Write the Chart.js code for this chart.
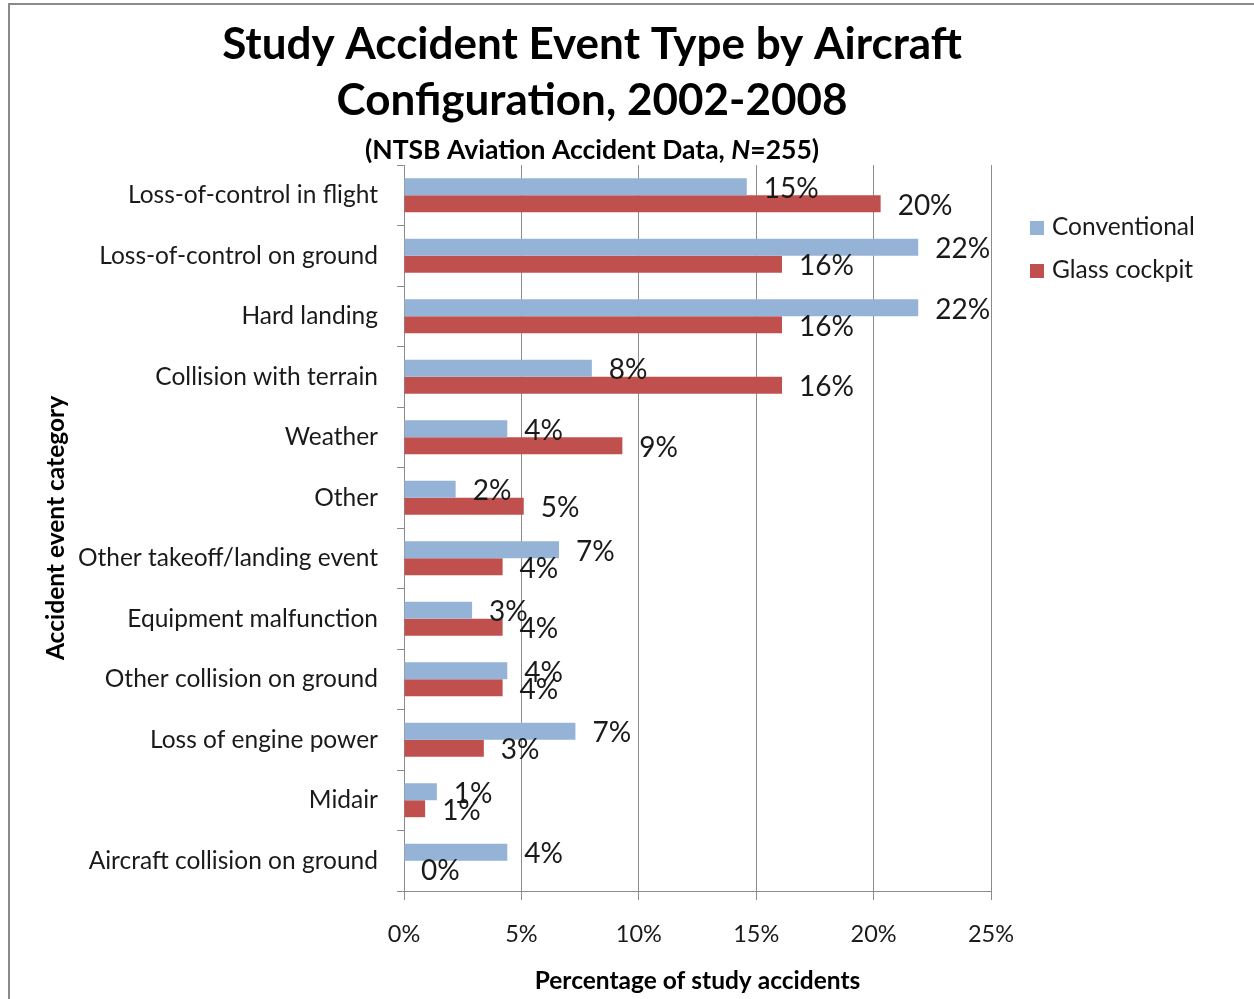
<!DOCTYPE html>
<html>
<head>
<meta charset="utf-8">
<script src="https://cdn.jsdelivr.net/npm/chart.js@4.4.1/dist/chart.umd.min.js"></script>
<style>
  html, body { margin: 0; padding: 0; background: #fff; }
  #frame { position: absolute; left: 8px; top: 3px; width: 1246px; height: 996px;
    border-left: 2px solid #8a8a8a; border-top: 2px solid #8a8a8a; }
  #wrap { position: absolute; left: 0; top: 0; width: 1164px; height: 994px; }
  #legend { position: absolute; left: 1020px; top: 206px; font: 24.5px Lato, sans-serif; color: #1a1a1a; }
  #legend div { height: 43px; line-height: 30px; white-space: nowrap; }
  #legend span { display: inline-block; width: 14px; height: 14px; margin-right: 8px; vertical-align: 0px; }
</style>
</head>
<body>
<div id="frame">
  <div id="wrap"><canvas id="accidentChart"></canvas></div>
  <div id="legend"></div>
</div>
<script>
const categories = [
  "Loss-of-control in flight",
  "Loss-of-control on ground",
  "Hard landing",
  "Collision with terrain",
  "Weather",
  "Other",
  "Other takeoff/landing event",
  "Equipment malfunction",
  "Other collision on ground",
  "Loss of engine power",
  "Midair",
  "Aircraft collision on ground"
];
// percent of study accidents
const conventional = [14.6, 21.9, 21.9, 8.0, 4.4, 2.2, 6.6, 2.9, 4.4, 7.3, 1.4, 4.4];
const glassCockpit = [20.3, 16.1, 16.1, 16.1, 9.3, 5.1, 4.2, 4.2, 4.2, 3.4, 0.9, 0];
const xTicks = [0, 5, 10, 15, 20, 25];
const titleLines = ["Study Accident Event Type by Aircraft", "Configuration, 2002-2008"];
const subtitleParts = [["(NTSB Aviation Accident Data, ", "normal"], ["N", "italic"], ["=255)", "normal"]];

const gridGray = "#8c8c8c";
const fontFamily = "Lato, sans-serif";

// title is centred over the whole chart object, not the plot area, so draw it here
const titleBlock = {
  id: "titleBlock",
  afterDraw(chart) {
    const ctx = chart.ctx;
    const cx = 582;
    ctx.save();
    ctx.fillStyle = "#000";
    ctx.textBaseline = "middle";
    ctx.textAlign = "center";
    ctx.font = "bold 44px " + fontFamily;
    titleLines.forEach((line, i) => ctx.fillText(line, cx, 40 + i * 56));

    ctx.textAlign = "left";
    const fonts = subtitleParts.map(p => p[1] + " bold 26.5px " + fontFamily);
    const widths = subtitleParts.map((p, i) => { ctx.font = fonts[i]; return ctx.measureText(p[0]).width; });
    let x = cx - widths.reduce((a, w) => a + w, 0) / 2;
    subtitleParts.forEach((p, i) => {
      ctx.font = fonts[i];
      ctx.fillText(p[0], x, 145);
      x += widths[i];
    });
    ctx.restore();
  }
};

const barLabels = {
  id: "barLabels",
  afterDatasetsDraw(chart) {
    const ctx = chart.ctx;
    ctx.save();
    ctx.font = "28px " + fontFamily;
    ctx.fillStyle = "#1a1a1a";
    ctx.textBaseline = "middle";
    ctx.textAlign = "left";
    chart.data.datasets.forEach((ds, i) => {
      chart.getDatasetMeta(i).data.forEach((bar, j) => {
        ctx.fillText(Math.round(ds.data[j]) + "%", bar.x + 17, bar.y + 2);
      });
    });
    ctx.restore();
  }
};

const chart = new Chart(document.getElementById("accidentChart"), {
  type: "bar",
  data: {
    labels: categories,
    datasets: [
      { label: "Conventional", data: conventional, backgroundColor: "#95B3D7" },
      { label: "Glass cockpit", data: glassCockpit, backgroundColor: "#C0504D" }
    ]
  },
  options: {
    indexAxis: "y",
    responsive: true,
    maintainAspectRatio: false,
    animation: false,
    categoryPercentage: 0.56,
    barPercentage: 1,
    layout: { padding: { left: 0, right: 183, top: 160, bottom: 0 } },
    plugins: {
      legend: { display: false },
      tooltip: { enabled: false }
    },
    scales: {
      x: {
        min: 0,
        max: 25,
        afterBuildTicks: scale => { scale.ticks = xTicks.map(v => ({ value: v })); },
        afterFit: scale => { scale.height = 108; },
        grid: { color: gridGray, tickLength: 9, drawTicks: true },
        border: { color: gridGray },
        ticks: {
          padding: 20,
          color: "#1a1a1a",
          font: { family: fontFamily, size: 23.5 },
          callback: v => v + "%"
        },
        title: {
          display: true,
          text: "Percentage of study accidents",
          color: "#000",
          font: { family: fontFamily, size: 24.5, weight: "bold" },
          padding: { top: 0, bottom: 3 }
        }
      },
      y: {
        afterFit: scale => { scale.width = 394; },
        grid: { drawOnChartArea: false, drawTicks: true, tickLength: 7, color: gridGray, offset: true },
        border: { color: gridGray },
        ticks: {
          autoSkip: false,
          padding: 19,
          color: "#1a1a1a",
          font: { family: fontFamily, size: 24.5 }
        },
        title: {
          display: true,
          text: "Accident event category",
          color: "#000",
          font: { family: fontFamily, size: 24.5, weight: "bold" },
          padding: { top: 31, bottom: 0 }
        }
      }
    }
  },
  plugins: [barLabels, titleBlock]
});

document.getElementById("legend").innerHTML = chart.data.datasets.map(ds =>
  `<div><span style="background:${ds.backgroundColor}"></span>${ds.label}</div>`
).join("");
</script>
</body>
</html>
